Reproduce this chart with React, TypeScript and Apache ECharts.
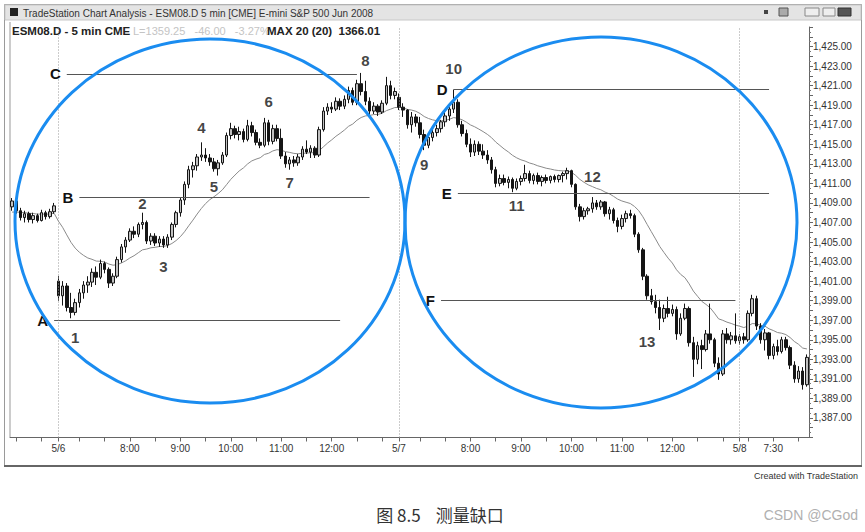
import React, { useEffect, useRef } from 'react';
import * as echarts from 'echarts';

// each bar: [open, high, low, close]
type Bar = [number, number, number, number];

const may5Bars: Bar[] = [
  [1408.6, 1409.5, 1408.2, 1409.2], [1409.2, 1409.3, 1407.9, 1408.2], [1408.2, 1408.5, 1407.2, 1407.5],
  [1407.5, 1408.2, 1407.0, 1407.9], [1407.9, 1408.1, 1407.0, 1407.3], [1407.3, 1408.0, 1406.9, 1407.7],
  [1407.7, 1407.9, 1407.0, 1407.2], [1407.2, 1408.3, 1407.1, 1408.0], [1408.0, 1408.2, 1407.3, 1407.6],
  [1407.6, 1408.4, 1407.4, 1408.1], [1408.1, 1409.0, 1407.9, 1408.7],
];

const may6Bars: Bar[] = [
  [1401.0, 1401.5, 1399.0, 1399.5], [1399.5, 1401.0, 1398.5, 1400.5], [1400.5, 1400.8, 1397.9, 1398.3],
  [1398.3, 1399.8, 1397.2, 1397.8], [1397.8, 1399.2, 1397.5, 1398.8], [1398.8, 1400.2, 1398.3, 1399.8],
  [1399.8, 1401.0, 1399.2, 1400.6], [1400.6, 1401.5, 1399.8, 1400.9], [1400.9, 1402.3, 1400.4, 1401.9],
  [1401.9, 1402.5, 1400.6, 1401.4], [1401.4, 1403.2, 1401.2, 1402.8], [1402.8, 1403.0, 1401.8, 1402.2],
  [1402.2, 1402.4, 1400.3, 1400.8], [1400.8, 1401.8, 1400.5, 1401.5], [1401.5, 1403.5, 1401.3, 1403.2],
  [1403.2, 1404.8, 1402.9, 1404.5], [1404.5, 1405.5, 1403.9, 1405.2], [1405.2, 1406.4, 1405.0, 1406.1],
  [1406.1, 1406.6, 1405.4, 1405.8], [1405.8, 1407.0, 1405.5, 1406.8], [1406.8, 1408.0, 1406.3, 1407.0],
  [1407.0, 1407.2, 1404.8, 1405.1], [1405.1, 1405.9, 1404.7, 1405.6], [1405.6, 1405.9, 1404.6, 1404.9],
  [1404.9, 1405.6, 1404.5, 1405.3], [1405.3, 1405.6, 1404.4, 1404.7], [1404.7, 1405.8, 1404.4, 1405.5],
  [1405.5, 1407.0, 1405.2, 1406.8], [1406.8, 1408.2, 1406.5, 1408.0], [1408.0, 1409.6, 1407.6, 1409.3],
  [1409.3, 1411.2, 1408.8, 1410.9], [1410.9, 1412.8, 1410.5, 1412.4], [1412.4, 1413.2, 1411.6, 1412.8],
  [1412.8, 1414.0, 1412.3, 1413.7], [1413.7, 1415.2, 1413.3, 1413.9], [1413.9, 1414.6, 1413.2, 1413.6],
  [1413.6, 1414.0, 1412.8, 1413.2], [1413.2, 1413.6, 1412.2, 1412.5], [1412.5, 1413.4, 1411.8, 1413.1],
  [1413.1, 1414.2, 1412.9, 1413.9], [1413.9, 1416.2, 1413.7, 1415.9], [1415.9, 1417.2, 1415.5, 1416.6],
  [1416.6, 1416.9, 1415.6, 1416.0], [1416.0, 1416.8, 1415.4, 1416.3], [1416.3, 1416.6, 1415.2, 1415.5],
  [1415.5, 1417.5, 1415.3, 1416.9], [1416.9, 1417.3, 1415.8, 1416.2], [1416.2, 1416.5, 1414.9, 1415.2],
  [1415.2, 1415.6, 1414.6, 1414.9], [1414.9, 1417.7, 1414.7, 1417.2], [1417.2, 1417.5, 1414.9, 1415.3],
  [1415.3, 1417.0, 1415.0, 1416.6], [1416.6, 1417.0, 1415.3, 1415.6], [1415.6, 1416.6, 1413.5, 1413.8],
  [1413.8, 1414.2, 1412.6, 1413.0], [1413.0, 1413.7, 1412.4, 1413.4], [1413.4, 1413.8, 1412.7, 1413.1],
  [1413.1, 1414.0, 1412.8, 1413.7], [1413.7, 1414.8, 1413.4, 1414.5], [1414.5, 1415.4, 1414.0, 1414.2],
  [1414.2, 1414.9, 1413.6, 1414.6], [1414.6, 1414.8, 1413.6, 1413.9], [1413.9, 1416.8, 1413.7, 1416.5],
  [1416.5, 1418.8, 1416.3, 1418.4], [1418.4, 1419.2, 1418.0, 1418.8], [1418.8, 1419.3, 1418.2, 1418.6],
  [1418.6, 1419.8, 1418.4, 1419.4], [1419.4, 1419.7, 1418.5, 1418.9], [1418.9, 1420.0, 1418.6, 1419.6],
  [1419.6, 1420.9, 1419.2, 1420.5], [1420.5, 1420.8, 1419.0, 1419.3], [1419.3, 1421.6, 1419.0, 1421.2],
  [1421.2, 1422.3, 1420.0, 1420.4], [1420.4, 1421.5, 1419.0, 1419.4], [1419.4, 1419.8, 1418.0, 1418.4],
  [1418.4, 1419.3, 1418.1, 1418.9], [1418.9, 1419.1, 1417.9, 1418.3], [1418.3, 1419.5, 1418.1, 1419.2],
  [1419.2, 1421.9, 1419.0, 1421.0], [1421.0, 1421.5, 1419.6, 1420.0], [1420.0, 1420.8, 1419.6, 1420.4],
];

const may7Bars: Bar[] = [
  [1419.8, 1420.2, 1418.5, 1418.8], [1418.8, 1419.2, 1417.8, 1418.5], [1418.5, 1418.6, 1416.6, 1417.0],
  [1417.0, 1418.3, 1416.2, 1417.8], [1417.8, 1418.1, 1416.8, 1417.2], [1417.2, 1417.8, 1415.6, 1416.0],
  [1416.0, 1416.5, 1414.4, 1414.9], [1414.9, 1416.0, 1414.6, 1415.7], [1415.7, 1416.5, 1415.3, 1416.2],
  [1416.2, 1417.0, 1415.8, 1416.6], [1416.6, 1417.5, 1416.2, 1417.3], [1417.3, 1418.3, 1416.8, 1417.9],
  [1417.9, 1418.8, 1417.4, 1418.6], [1418.6, 1420.6, 1418.2, 1419.3], [1419.3, 1419.6, 1416.7, 1417.0],
  [1417.0, 1417.4, 1415.8, 1416.1], [1416.1, 1416.5, 1414.7, 1415.0], [1415.0, 1415.6, 1413.7, 1414.2],
  [1414.2, 1415.4, 1413.8, 1415.0], [1415.0, 1415.3, 1413.9, 1414.3], [1414.3, 1415.0, 1413.5, 1413.9],
  [1413.9, 1414.4, 1413.0, 1413.4], [1413.4, 1413.7, 1412.0, 1412.4], [1412.4, 1412.7, 1410.6, 1411.0],
  [1411.0, 1411.9, 1410.7, 1411.5], [1411.5, 1411.9, 1410.8, 1411.1], [1411.1, 1411.7, 1410.5, 1411.4],
  [1411.4, 1411.6, 1410.1, 1410.5], [1410.5, 1411.5, 1410.3, 1411.2], [1411.2, 1411.8, 1410.8, 1411.5],
  [1411.5, 1412.9, 1411.2, 1412.0], [1412.0, 1412.3, 1411.0, 1411.3], [1411.3, 1412.0, 1410.9, 1411.8],
  [1411.8, 1412.1, 1410.9, 1411.2], [1411.2, 1411.8, 1410.7, 1411.6], [1411.6, 1411.9, 1411.0, 1411.3],
  [1411.3, 1411.8, 1411.0, 1411.7], [1411.7, 1411.9, 1411.1, 1411.4], [1411.4, 1411.9, 1411.1, 1411.8],
  [1411.8, 1412.2, 1411.1, 1412.0], [1412.0, 1412.6, 1411.4, 1412.3], [1412.3, 1412.4, 1410.6, 1410.9],
  [1410.9, 1411.0, 1408.3, 1408.6], [1408.6, 1408.9, 1407.1, 1407.6], [1407.6, 1408.5, 1407.3, 1408.2],
  [1408.2, 1408.6, 1407.8, 1408.4], [1408.4, 1409.6, 1408.0, 1409.0], [1409.0, 1409.3, 1408.3, 1408.6],
  [1408.6, 1409.3, 1408.3, 1409.1], [1409.1, 1409.2, 1407.6, 1407.9], [1407.9, 1408.6, 1407.3, 1408.3],
  [1408.3, 1408.5, 1406.9, 1407.2], [1407.2, 1407.5, 1406.0, 1406.6], [1406.6, 1407.8, 1406.3, 1407.4],
  [1407.4, 1408.2, 1407.0, 1407.9], [1407.9, 1408.3, 1407.4, 1407.7], [1407.7, 1407.9, 1405.5, 1405.8],
  [1405.8, 1406.0, 1403.9, 1404.2], [1404.2, 1404.4, 1401.1, 1401.5], [1401.5, 1401.7, 1399.1, 1399.5],
  [1399.5, 1400.2, 1398.6, 1398.9], [1398.9, 1399.6, 1397.7, 1398.3], [1398.3, 1399.1, 1396.0, 1397.2],
  [1397.2, 1398.6, 1396.8, 1398.2], [1398.2, 1399.4, 1397.3, 1397.7], [1397.7, 1398.6, 1397.4, 1398.1],
  [1398.1, 1398.4, 1395.0, 1395.6], [1395.6, 1397.7, 1395.4, 1397.2], [1397.2, 1398.7, 1397.0, 1398.2],
  [1398.2, 1398.4, 1394.3, 1394.7], [1394.7, 1395.3, 1391.2, 1393.0], [1393.0, 1394.8, 1392.5, 1394.4],
  [1394.4, 1395.0, 1392.0, 1394.0], [1394.0, 1396.0, 1393.8, 1395.6], [1395.6, 1398.7, 1394.6, 1395.0],
  [1395.0, 1395.2, 1392.2, 1392.6], [1392.6, 1393.2, 1390.9, 1391.5], [1391.5, 1396.0, 1391.3, 1395.6],
  [1395.6, 1396.2, 1394.6, 1395.0], [1395.0, 1395.8, 1394.5, 1395.4], [1395.4, 1397.7, 1394.6, 1394.9],
];

const may8Bars: Bar[] = [
  [1394.9, 1395.6, 1394.5, 1395.3], [1395.3, 1395.7, 1394.6, 1395.0], [1395.0, 1398.0, 1394.8, 1397.7],
  [1397.7, 1399.6, 1397.4, 1399.2], [1399.2, 1399.5, 1396.0, 1396.4], [1396.4, 1396.7, 1394.6, 1395.0],
  [1395.0, 1396.1, 1393.9, 1395.7], [1395.7, 1395.8, 1393.0, 1393.4], [1393.4, 1394.6, 1393.0, 1394.3],
  [1394.3, 1395.0, 1393.4, 1393.8], [1393.8, 1395.3, 1393.6, 1395.0], [1395.0, 1395.3, 1393.9, 1394.2],
  [1394.2, 1394.4, 1392.0, 1392.4], [1392.4, 1392.8, 1390.6, 1391.0], [1391.0, 1392.3, 1390.6, 1391.8],
  [1391.8, 1392.2, 1389.9, 1390.4], [1390.4, 1393.5, 1390.2, 1393.2],
];

const sessions = [
  { day: '5/5', start: '12:25', bars: may5Bars },
  { day: '5/6', start: '06:35', bars: may6Bars },
  { day: '5/7', start: '06:35', bars: may7Bars },
  { day: '5/8', start: '06:50', bars: may8Bars },
];

const xTickLabels: [string, string][] = [
  ['5/6 06:35', '5/6'], ['5/6 08:00', '8:00'], ['5/6 09:00', '9:00'], ['5/6 10:00', '10:00'],
  ['5/6 11:00', '11:00'], ['5/6 12:00', '12:00'],
  ['5/7 06:35', '5/7'], ['5/7 08:00', '8:00'], ['5/7 09:00', '9:00'], ['5/7 10:00', '10:00'],
  ['5/7 11:00', '11:00'], ['5/7 12:00', '12:00'],
  ['5/8 06:50', '5/8'], ['5/8 07:30', '7:30'],
];

const yTickLabelRange = [1387, 1425];

const dayBreaks = ['5/6 06:35', '5/7 06:35', '5/8 06:50'];

const levelLines = [
  { name: 'C', price: 1422.2, from: '5/6 06:45', to: '5/6 12:30' },
  { name: 'B', price: 1409.6, from: '5/6 07:00', to: '5/6 12:45' },
  { name: 'A', price: 1397.0, from: '5/5 13:15', to: '5/6 12:10' },
  { name: 'D', price: 1420.6, from: '5/7 07:40', to: '5/8 07:25' },
  { name: 'E', price: 1410.0, from: '5/7 07:45', to: '5/8 07:25' },
  { name: 'F', price: 1399.0, from: '5/7 07:25', to: '5/7 13:15' },
];

const waveLabels: [string, string, number][] = [
  ['1', '5/6 06:55', 1395.2], ['2', '5/6 08:15', 1408.9], ['3', '5/6 08:40', 1402.5],
  ['4', '5/6 09:25', 1416.7], ['5', '5/6 09:40', 1410.7], ['6', '5/6 10:45', 1419.4],
  ['7', '5/6 11:10', 1411.1], ['8', '5/6 12:40', 1423.6], ['9', '5/7 07:05', 1412.9],
  ['10', '5/7 07:40', 1422.8], ['11', '5/7 08:55', 1408.7], ['12', '5/7 10:25', 1411.7],
  ['13', '5/7 11:30', 1394.8],
];

const maPeriod = 20;

const FONT = '"Liberation Sans", Arial, Helvetica, sans-serif';

function pad(n: number) {
  return String(n).padStart(2, '0');
}

function buildCategories() {
  const cats: string[] = [];
  const bars: Bar[] = [];
  sessions.forEach((s) => {
    const [h, m] = s.start.split(':').map(Number);
    s.bars.forEach((b, k) => {
      const t = h * 60 + m + 5 * k;
      cats.push(`${s.day} ${pad(Math.floor(t / 60))}:${pad(t % 60)}`);
      bars.push(b);
    });
  });
  return { cats, bars };
}

export default function App() {
  const ref = useRef<HTMLDivElement>(null);

  useEffect(() => {
    if (!ref.current) return;
    const chart = echarts.init(ref.current, undefined, { renderer: 'svg' });
    const { cats, bars } = buildCategories();
    const idx = (c: string) => cats.indexOf(c);
    const labelMap = new Map(xTickLabels);

    // exponential moving average of closes
    const closes = bars.map((b) => b[3]);
    const alpha = 2 / (maPeriod + 1);
    let ema = may5Bars.reduce((s, b) => s + b[3], 0) / may5Bars.length;
    const ma = closes.map((c) => {
      ema = ema + alpha * (c - ema);
      return +ema.toFixed(2);
    });

    const option: any = {
      animation: false,
      backgroundColor: '#ffffff',
      textStyle: { fontFamily: FONT },
      grid: { left: 10, right: 56, top: 27, bottom: 94.5 },
      xAxis: {
        type: 'category',
        data: cats,
        boundaryGap: true,
        axisLine: { lineStyle: { color: '#666', width: 1 } },
        axisTick: {
          show: true,
          alignWithLabel: true,
          length: 4,
          interval: (_i: number, v: string) => labelMap.has(v) || v.endsWith(':00') || v.endsWith(':30'),
          lineStyle: { color: '#666' },
        },
        axisLabel: {
          interval: (_i: number, v: string) => labelMap.has(v),
          formatter: (v: string) => labelMap.get(v) ?? '',
          fontSize: 10,
          color: '#333',
          margin: 6,
          fontFamily: FONT,
        },
        splitLine: { show: false },
      },
      yAxis: {
        type: 'value',
        position: 'right',
        min: 1385,
        max: 1427,
        interval: 1,
        axisLine: { show: true, lineStyle: { color: '#666' } },
        axisTick: { show: true, length: 4, lineStyle: { color: '#666' } },
        minorTick: { show: true, splitNumber: 2, length: 2, lineStyle: { color: '#777' } },
        axisLabel: {
          formatter: (v: number) => {
            const r = Math.round(v);
            if (r % 2 !== 1 || r < yTickLabelRange[0] || r > yTickLabelRange[1]) return '';
            return v.toLocaleString('en-US', { minimumFractionDigits: 2, maximumFractionDigits: 2 });
          },
          fontSize: 10,
          color: '#333',
          margin: 4,
          fontFamily: FONT,
        },
        splitLine: { show: false },
      },
      series: [
        {
          name: 'ESM08.D',
          type: 'candlestick',
          data: bars.map((b) => [b[0], b[3], b[2], b[1]]),
          barWidth: 3,
          itemStyle: {
            color: '#c0c0c0',
            color0: '#151515',
            borderColor: '#151515',
            borderColor0: '#151515',
            borderWidth: 1,
          },
          markLine: {
            silent: true,
            symbol: ['none', 'none'],
            lineStyle: { color: '#555', width: 1, type: 'solid' },
            label: {
              show: true,
              position: 'start',
              distance: 6,
              formatter: '{b}',
              fontSize: 15,
              fontWeight: 'bold',
              color: '#111',
              fontFamily: FONT,
            },
            data: levelLines.map((l) => [
              { name: l.name, coord: [idx(l.from), l.price] },
              { coord: [idx(l.to), l.price] },
            ]),
          },
        },
        {
          name: 'MAX 20',
          type: 'line',
          data: ma,
          showSymbol: false,
          symbol: 'none',
          lineStyle: { color: '#8a8a8a', width: 1 },
          z: 1,
          markLine: {
            silent: true,
            symbol: ['none', 'none'],
            label: { show: false },
            lineStyle: { color: '#999', width: 1, type: [1, 2] },
            data: dayBreaks.map((d) => ({ xAxis: idx(d) })),
          },
        },
        {
          name: 'waves',
          type: 'scatter',
          symbolSize: 1,
          itemStyle: { color: 'rgba(0,0,0,0)' },
          label: {
            show: true,
            position: 'inside',
            formatter: '{b}',
            fontSize: 15,
            fontWeight: 'bold',
            color: '#111',
            fontFamily: FONT,
          },
          data: waveLabels.map(([t, c, p]) => ({ name: t, value: [idx(c), p] })),
          z: 5,
        },
      ],
      graphic: [
        { type: 'rect', shape: { x: 4.5, y: 4.5, width: 857, height: 461 }, style: { fill: 'none', stroke: '#9a9a9a', lineWidth: 1 }, z: 1 },
        { type: 'rect', shape: { x: 5, y: 5, width: 856, height: 15 }, style: { fill: '#e4e4e4', stroke: '#c8c8c8', lineWidth: 1 }, z: 2 },
        { type: 'rect', shape: { x: 10, y: 8, width: 8, height: 8 }, style: { fill: '#222' }, z: 3 },
        {
          type: 'text', x: 23, y: 13, z: 3,
          style: { text: 'TradeStation Chart Analysis - ESM08.D 5 min [CME] E-mini S&P 500 Jun 2008', fontSize: 10, fill: '#333', fontFamily: FONT, verticalAlign: 'middle' },
        },
        { type: 'rect', shape: { x: 764, y: 10, width: 4, height: 4 }, style: { fill: '#444' }, z: 3 },
        { type: 'rect', shape: { x: 779, y: 8, width: 9, height: 8 }, style: { fill: '#aaa', stroke: '#555' }, z: 3 },
        { type: 'rect', shape: { x: 805, y: 8, width: 14, height: 8 }, style: { fill: '#eee', stroke: '#888' }, z: 3 },
        { type: 'rect', shape: { x: 823, y: 8, width: 12, height: 8 }, style: { fill: '#eee', stroke: '#888' }, z: 3 },
        { type: 'rect', shape: { x: 838, y: 8, width: 13, height: 8 }, style: { fill: '#555', stroke: '#333' }, z: 3 },
        {
          type: 'text', x: 12, y: 31, z: 3,
          style: { text: 'ESM08.D - 5 min CME', fontSize: 11.5, fontWeight: 'bold', fill: '#222', fontFamily: FONT, verticalAlign: 'middle' },
        },
        {
          type: 'text', x: 133, y: 31, z: 3,
          style: { text: 'L=1359.25   -46.00   -3.27%', fontSize: 11, fill: '#c4c4c4', fontFamily: FONT, verticalAlign: 'middle' },
        },
        {
          type: 'text', x: 267, y: 31, z: 3,
          style: { text: 'MAX 20 (20)  1366.01', fontSize: 11.5, fontWeight: 'bold', fill: '#222', fontFamily: FONT, verticalAlign: 'middle' },
        },
        { type: 'line', shape: { x1: 10, y1: 22, x2: 10, y2: 437 }, style: { stroke: '#999', lineWidth: 1 }, z: 2 },
        { type: 'line', shape: { x1: 4, y1: 466, x2: 862, y2: 466 }, style: { stroke: '#666', lineWidth: 2 }, z: 2 },
        {
          type: 'text', x: 858, y: 476, z: 3,
          style: { text: 'Created with TradeStation', fontSize: 9, fill: '#333', fontFamily: FONT, align: 'right', verticalAlign: 'middle' },
        },
        {
          type: 'ellipse', z: 100,
          shape: { cx: 210, cy: 221, rx: 195, ry: 182 },
          style: { fill: 'none', stroke: '#1a8cf0', lineWidth: 3 },
        },
        {
          type: 'ellipse', z: 100,
          shape: { cx: 601, cy: 222.5, rx: 196, ry: 185.5 },
          style: { fill: 'none', stroke: '#1a8cf0', lineWidth: 3 },
        },
        {
          type: 'text', x: 440, y: 514, z: 3,
          style: { text: '图 8.5    测量缺口', fontSize: 17, fill: '#333', fontFamily: '"Noto Sans CJK SC", sans-serif', align: 'center', verticalAlign: 'middle' },
        },
        {
          type: 'text', x: 858, y: 515, z: 3,
          style: { text: 'CSDN @CGod', fontSize: 14, fill: '#b0b0b0', fontFamily: FONT, align: 'right', verticalAlign: 'middle' },
        },
      ],
    };

    chart.setOption(option);
    return () => chart.dispose();
  }, []);

  return (
    <div
      ref={ref}
      style={{ position: 'fixed', left: 0, top: 0, width: 865, height: 532, background: '#fff' }}
    />
  );
}
